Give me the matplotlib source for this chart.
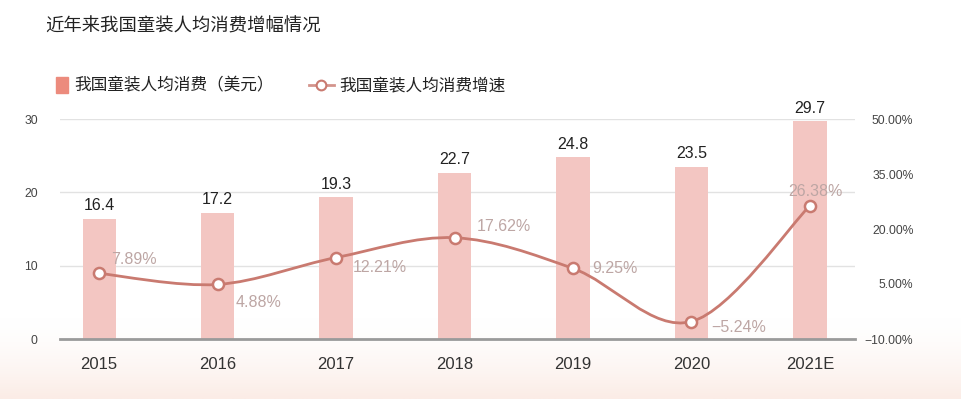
import numpy as np
import matplotlib
matplotlib.use("Agg")
import matplotlib.pyplot as plt
from matplotlib.path import Path
from matplotlib.patches import PathPatch, Rectangle
from matplotlib.lines import Line2D
from matplotlib.ticker import FuncFormatter

plt.rcParams['font.family'] = ['Liberation Sans', 'Noto Sans CJK SC']
plt.rcParams['axes.unicode_minus'] = True

# data
years = ['2015', '2016', '2017', '2018', '2019', '2020', '2021E']
spend = [16.4, 17.2, 19.3, 22.7, 24.8, 23.5, 29.7]
growth = [7.89, 4.88, 12.21, 17.62, 9.25, -5.24, 26.38]
left_ticks = [0, 10, 20, 30]
right_ticks = [-10, 5, 20, 35, 50]

title = '近年来我国童装人均消费增幅情况'
bar_name = '我国童装人均消费（美元）'
line_name = '我国童装人均消费增速'

bar_color = '#f3c6c2'
legend_bar_color = '#ec8b7d'
line_color = '#c97a70'
pct_color = '#bda6a4'

W, H = 962, 399
fig = plt.figure(figsize=(W / 100, H / 100), dpi=100)

# faint pink wash at the bottom like the original picture
bg = fig.add_axes([0, 0, 1, 1], zorder=-10)
grad = np.linspace(0, 1, 200)[:, None]
grad = np.clip((grad - 0.80) / 0.20, 0, 1) ** 1.5
img = np.ones((200, 2, 3))
tint = np.array([251, 236, 230]) / 255
img = img * (1 - grad[..., None]) + tint * grad[..., None]
bg.imshow(img, aspect='auto', extent=[0, 1, 0, 1], origin='upper')
bg.axis('off')


def fx(px):
    return px / W


def fy(py):
    return 1 - py / H


ax = fig.add_axes([fx(60), fy(339), fx(855) - fx(60), fy(119) - fy(339)])
ax.patch.set_alpha(0)
x = np.arange(len(years))

bars = ax.bar(x, spend, width=0.28, color=bar_color, zorder=2)
ax.set_xlim(-0.33, 6.38)
ax.set_ylim(0, 30)
ax.set_yticks(left_ticks)
ax.set_xticks(x)
ax.set_xticklabels(years, fontsize=12, color='#333333')
ax.tick_params(axis='x', length=0, pad=13)
ax.tick_params(axis='y', length=0, pad=16, labelsize=8.7, labelcolor='#444444')
ax.grid(axis='y', color='#e2e2e2', linewidth=1, zorder=0)
for s in ['top', 'right', 'left']:
    ax.spines[s].set_visible(False)
ax.spines['bottom'].set_color('#9a9a9a')
ax.spines['bottom'].set_linewidth(2)
ax.spines['bottom'].set_zorder(3)

for b, v in zip(bars, spend):
    ax.annotate(f'{v}', (b.get_x() + b.get_width() / 2, v), xytext=(0, 4),
                textcoords='offset points', ha='center', va='bottom',
                fontsize=11.5, color='#222222')

ax2 = ax.twinx()
ax2.set_ylim(-10, 50)
ax2.set_yticks(right_ticks)
ax2.yaxis.set_major_formatter(FuncFormatter(lambda v, p: f'{v:.2f}%'.replace('-', '\u2212')))
ax2.tick_params(axis='y', length=0, pad=42, labelsize=8.7, labelcolor='#444444')
for t in ax2.get_yticklabels():
    t.set_ha('right')
for s in ax2.spines.values():
    s.set_visible(False)

# smooth line through the points (Catmull-Rom as cubic Bezier)
pts = np.column_stack([x, growth]).astype(float)
verts = [tuple(pts[0])]
codes = [Path.MOVETO]
n = len(pts)
for i in range(n - 1):
    p0 = pts[max(i - 1, 0)]
    p1 = pts[i]
    p2 = pts[i + 1]
    p3 = pts[min(i + 2, n - 1)]
    c1 = p1 + (p2 - p0) / 6
    c2 = p2 - (p3 - p1) / 6
    verts += [tuple(c1), tuple(c2), tuple(p2)]
    codes += [Path.CURVE4] * 3
ax2.add_patch(PathPatch(Path(verts, codes), fill=False, edgecolor=line_color,
                        linewidth=2, zorder=4))
ax2.plot(x, growth, linestyle='none', marker='o', markersize=8,
         markerfacecolor='white', markeredgecolor=line_color,
         markeredgewidth=1.8, zorder=5)

offsets = [(9, 10, 'left'), (13, -13, 'left'), (12, -7, 'left'), (16, 8, 'left'),
           (14, 0, 'left'), (14, -4, 'left'), (4, 10, 'center')]
for xi, g, (dx, dy, ha) in zip(x, growth, offsets):
    ax2.annotate(f'{g:.2f}%'.replace('-', '\u2212'), (xi, g), xytext=(dx, dy),
                 textcoords='offset points', ha=ha, va='center',
                 fontsize=11.5, color=pct_color, zorder=6)

# title
fig.text(fx(45), fy(27), title, fontsize=13.2, color='#222222', va='center', ha='left')

# legend drawn by hand
fig.add_artist(Rectangle((fx(56), fy(93)), fx(12), fy(77) - fy(93),
                         transform=fig.transFigure, color=legend_bar_color))
fig.text(fx(74), fy(85), bar_name, fontsize=12, color='#222222', va='center', ha='left')
fig.add_artist(Line2D([fx(309), fx(334)], [fy(85), fy(85)], transform=fig.transFigure,
                      color=line_color, linewidth=2, alpha=0.8))
fig.add_artist(Line2D([fx(321.5)], [fy(85)], transform=fig.transFigure,
                      linestyle='none', marker='o', markersize=7,
                      markerfacecolor='white', markeredgecolor=line_color,
                      markeredgewidth=1.5))
fig.text(fx(339), fy(85), line_name, fontsize=12, color='#222222', va='center', ha='left')

fig.savefig('out.png', dpi=100)
